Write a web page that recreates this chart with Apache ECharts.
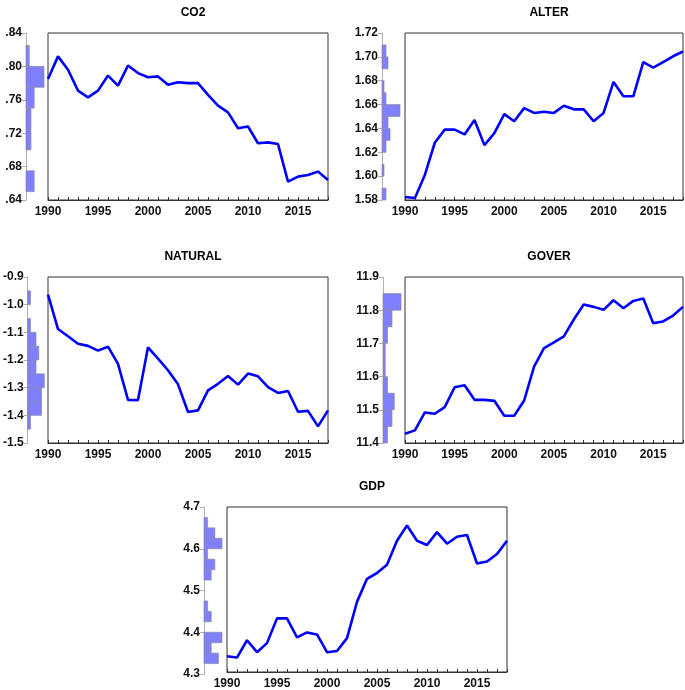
<!DOCTYPE html>
<html>
<head>
<meta charset="utf-8">
<script src="https://cdn.jsdelivr.net/npm/echarts@6/dist/echarts.min.js"></script>
<style>
html,body{margin:0;padding:0;background:#fff;}
#c{width:685px;height:690px;}
</style>
</head>
<body>
<div id="c"></div>
<script>
// ---- data ----
var years = [1990,1991,1992,1993,1994,1995,1996,1997,1998,1999,2000,2001,2002,2003,2004,2005,2006,2007,2008,2009,2010,2011,2012,2013,2014,2015,2016,2017,2018];

var co2 = [0.785,0.812,0.796,0.771,0.763,0.771,0.789,0.777,0.801,0.792,0.787,0.788,0.778,0.781,0.780,0.780,0.766,0.753,0.745,0.726,0.728,0.708,0.709,0.707,0.662,0.668,0.670,0.674,0.664];
var alter = [1.5825,1.5817,1.601,1.628,1.639,1.639,1.635,1.647,1.626,1.636,1.652,1.646,1.657,1.653,1.654,1.653,1.659,1.656,1.656,1.646,1.653,1.679,1.667,1.667,1.6955,1.691,1.6955,1.7005,1.7045];
var natural = [-0.964,-1.088,-1.114,-1.141,-1.149,-1.166,-1.152,-1.214,-1.344,-1.345,-1.154,-1.195,-1.237,-1.288,-1.388,-1.382,-1.310,-1.286,-1.258,-1.289,-1.249,-1.259,-1.298,-1.319,-1.312,-1.387,-1.384,-1.440,-1.382];
var gover = [11.428,11.438,11.492,11.488,11.508,11.568,11.574,11.530,11.530,11.527,11.482,11.482,11.528,11.630,11.686,11.703,11.721,11.772,11.817,11.810,11.801,11.830,11.806,11.828,11.835,11.761,11.766,11.784,11.810];
var gdp = [4.338,4.335,4.377,4.348,4.370,4.430,4.430,4.384,4.396,4.391,4.348,4.351,4.382,4.470,4.526,4.540,4.560,4.618,4.655,4.618,4.608,4.639,4.611,4.628,4.632,4.563,4.568,4.586,4.618];

// histogram bins (start of first bin, bin width, counts)
var co2HistStart = 0.65, co2HistWidth = 0.025, co2HistCounts = [5,0,3,3,5,11,2];
var alterHistStart = 1.58, alterHistWidth = 0.01, alterHistCounts = [2,0,1,0,2,4,3,9,2,1,0,3,2];
var naturalHistStart = -1.45, naturalHistWidth = 0.05, naturalHistCounts = [1,5,5,6,3,4,3,1,0,1];
var goverHistStart = 11.40, goverHistWidth = 0.05, goverHistCounts = [2,4,5,2,1,1,2,4,8];
var gdpHistStart = 4.325, gdpHistWidth = 0.025, gdpHistCounts = [4,2,5,0,2,1,0,0,2,3,1,5,3,1];

var titles = ['CO2','ALTER','NATURAL','GOVER','GDP'];
var yMins = [0.64, 1.58, -1.5, 11.4, 4.3];
var yMaxs = [0.84, 1.72, -0.9, 11.9, 4.7];
var yIntervals = [0.04, 0.02, 0.1, 0.1, 0.1];
var xTickLabels = [1990,1995,2000,2005,2010,2015];

// ---- layout (px) ----
var panels = [
  {axisX:26, boxL:48, boxR:328, top:33, bottom:200, decimals:2, stripZero:true, series:co2, hs:co2HistStart, hw:co2HistWidth, hc:co2HistCounts},
  {axisX:382, boxL:405, boxR:683, top:33, bottom:200, decimals:2, stripZero:false, series:alter, hs:alterHistStart, hw:alterHistWidth, hc:alterHistCounts},
  {axisX:26, boxL:48, boxR:328, top:277, bottom:443, decimals:1, stripZero:false, series:natural, hs:naturalHistStart, hw:naturalHistWidth, hc:naturalHistCounts},
  {axisX:383, boxL:405, boxR:683, top:277, bottom:443, decimals:1, stripZero:false, series:gover, hs:goverHistStart, hw:goverHistWidth, hc:goverHistCounts},
  {axisX:204, boxL:227, boxR:507, top:507, bottom:674, decimals:1, stripZero:false, series:gdp, hs:gdpHistStart, hw:gdpHistWidth, hc:gdpHistCounts}
];

var FONT = 'Liberation Sans, Arial, sans-serif';
var option = {
  animation:false,
  backgroundColor:'#fff',
  title:[], grid:[], xAxis:[], yAxis:[], series:[]
};

panels.forEach(function(p, i){
  var h = p.bottom - p.top;
  option.title.push({
    text: titles[i], left: (p.boxL + p.boxR)/2, top: p.top - 31, textAlign:'center',
    textStyle:{fontFamily:FONT, fontWeight:'bold', fontSize:12, color:'#000'}
  });
  // histogram grid
  var hg = option.grid.length;
  option.grid.push({left:p.axisX, top:p.top, width:p.boxL - p.axisX, height:h, containLabel:false});
  var maxC = Math.max.apply(null, p.hc);
  option.xAxis.push({gridIndex:hg, type:'value', min:0, max:maxC * (p.boxL - p.axisX) / 18, show:false});
  (function(p){
    option.yAxis.push({
      gridIndex:hg, type:'value', min:yMins[i], max:yMaxs[i], interval:yIntervals[i],
      axisLine:{show:true, lineStyle:{color:'#b0b0b0', width:1}},
      axisTick:{show:true, inside:false, length:4, lineStyle:{color:'#b0b0b0'}},
      splitLine:{show:false},
      axisLabel:{fontFamily:FONT, fontWeight:'bold', fontSize:12, color:'#111', margin:4,
        formatter:function(v){ var s = v.toFixed(p.decimals); if(p.stripZero) s = s.replace(/^0/,''); return s; }}
    });
  })(p);
  var histData = p.hc.map(function(c, k){ return [p.hs + k*p.hw, p.hs + (k+1)*p.hw, c]; });
  option.series.push({
    type:'custom', xAxisIndex:hg, yAxisIndex:hg, data:histData,
    renderItem:function(params, api){
      var c = api.value(2);
      if (!c) return null;
      var a = api.coord([0, api.value(1)]);
      var b = api.coord([c, api.value(0)]);
      return {type:'rect', shape:{x:a[0], y:a[1], width:b[0]-a[0], height:b[1]-a[1]},
        style:{fill:'#8080ff', stroke:'#8888a0', lineWidth:0.7}};
    }
  });
  // line grid
  var lg = option.grid.length;
  option.grid.push({left:p.boxL, top:p.top, width:p.boxR - p.boxL, height:h, show:true, borderColor:'#333', borderWidth:1, backgroundColor:'transparent'});
  option.xAxis.push({
    gridIndex:lg, type:'value', min:years[0], max:years[years.length-1], interval:5,
    axisLine:{show:true, onZero:false, lineStyle:{color:'#333', width:1}},
    axisTick:{show:true, inside:true, length:3, lineStyle:{color:'#333'}},
    minorTick:{show:true, splitNumber:5, length:3, lineStyle:{color:'#333'}},
    splitLine:{show:false},
    axisLabel:{fontFamily:FONT, fontWeight:'bold', fontSize:12, color:'#111', margin:6, showMaxLabel:false,
      formatter:function(v){ return xTickLabels.indexOf(v) >= 0 ? String(v) : ''; }}
  });
  option.yAxis.push({gridIndex:lg, type:'value', min:yMins[i], max:yMaxs[i], show:false});
  option.series.push({
    type:'line', xAxisIndex:lg, yAxisIndex:lg, showSymbol:false, symbol:'none',
    data: years.map(function(y, k){ return [y, p.series[k]]; }),
    lineStyle:{color:'#0000ff', width:2.6}, itemStyle:{color:'#0000ff'}
  });
});

var chart = echarts.init(document.getElementById('c'), null, {renderer:'canvas'});
chart.setOption(option);
</script>
</body>
</html>
